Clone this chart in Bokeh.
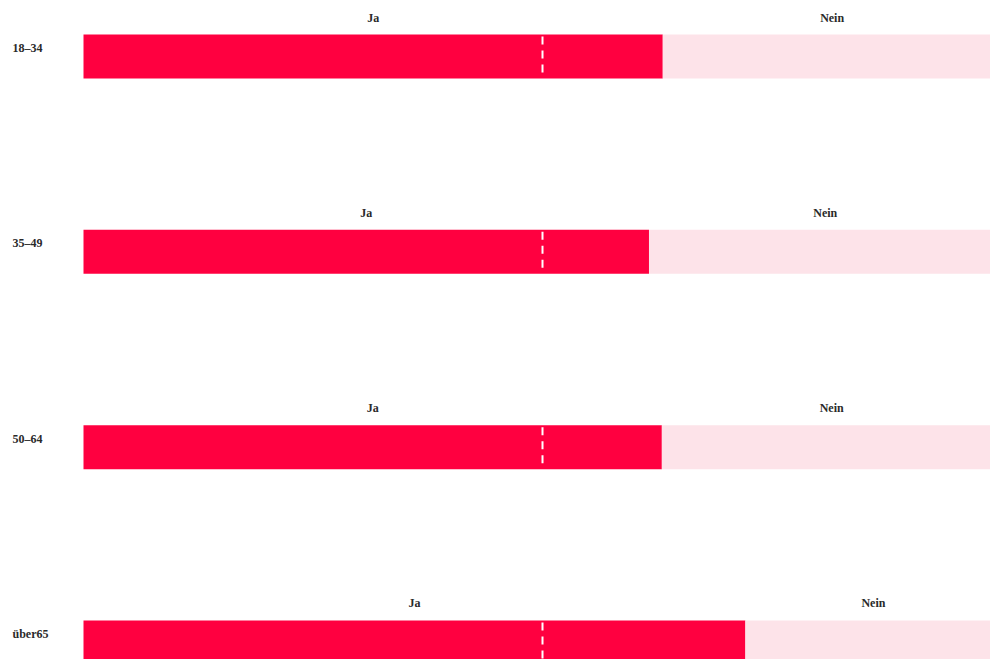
from bokeh.plotting import figure
from bokeh.models import Range1d, ColumnDataSource
from bokeh.core.properties import value
from bokeh.embed import file_html
from bokeh.resources import INLINE

# Data
groups = ["18–34", "35–49", "50–64", "über65"]
ja = [63.1, 61.6, 63.0, 72.1]
nein = [100 - v for v in ja]
label_ja = ["Ja"] * 4
label_nein = ["Nein"] * 4
reference_line = 50

RED = "#ff0040"
PINK = "#fde3e9"
TXT = "#2a2a2a"
FONT = value("Liberation Serif")

W, H = 990, 659
# layout in page pixels (figure origin at page 0,0)
frame_left_page = 0
frame_top_page = 0
bar_left_page = 83
bar_full_px = 918
px_per_unit = bar_full_px / 100.0
x_start = -(bar_left_page - frame_left_page) / px_per_unit
x_end = x_start + W / px_per_unit

pitch = 195.33
first_center_page = 56
y_top = (frame_top_page - first_center_page) / pitch
y_bot = (frame_top_page + H - first_center_page) / pitch
bar_h = 44 / pitch

p = figure(width=W, height=H, output_backend="svg", toolbar_location=None,
           x_range=Range1d(x_start, x_end), y_range=Range1d(y_bot, y_top),
           min_border=0, min_border_left=0, min_border_right=0,
           min_border_top=0, min_border_bottom=0)
p.axis.visible = False
p.grid.visible = False
p.outline_line_color = None
p.background_fill_color = "white"
p.border_fill_color = "white"

rows = list(range(len(groups)))
src = ColumnDataSource(dict(
    y=rows, ja=ja, nein=nein, zero=[0] * 4, total=[j + n for j, n in zip(ja, nein)],
    ja_mid=[j / 2 for j in ja], nein_mid=[j + n / 2 for j, n in zip(ja, nein)],
    lja=label_ja, lnein=label_nein, grp=groups,
    ref=[reference_line] * 4,
    ytop=[r - bar_h / 2 for r in rows], ybot=[r + bar_h / 2 for r in rows],
))

p.hbar(y="y", left="zero", right="ja", height=bar_h, source=src,
       fill_color=RED, line_color=None)
p.hbar(y="y", left="ja", right="total", height=bar_h, source=src,
       fill_color=PINK, line_color=None)
p.segment(x0="ref", x1="ref", y0="ytop", y1="ybot", source=src,
          line_color="white", line_width=2, line_dash="8 6", line_dash_offset=-2)

common = dict(text_baseline="middle", text_font=FONT, text_font_size="12px",
              text_font_style="bold", text_color=TXT)
p.text(x="ja_mid", y="y", text="lja", source=src, y_offset=-39,
       text_align="center", **common)
p.text(x="nein_mid", y="y", text="lnein", source=src, y_offset=-39,
       text_align="center", **common)
p.text(x="zero", y="y", text="grp", source=src, x_offset=-71, y_offset=-8.5,
       text_align="left", **common)

open("out.html", "w").write(file_html(p, INLINE))
